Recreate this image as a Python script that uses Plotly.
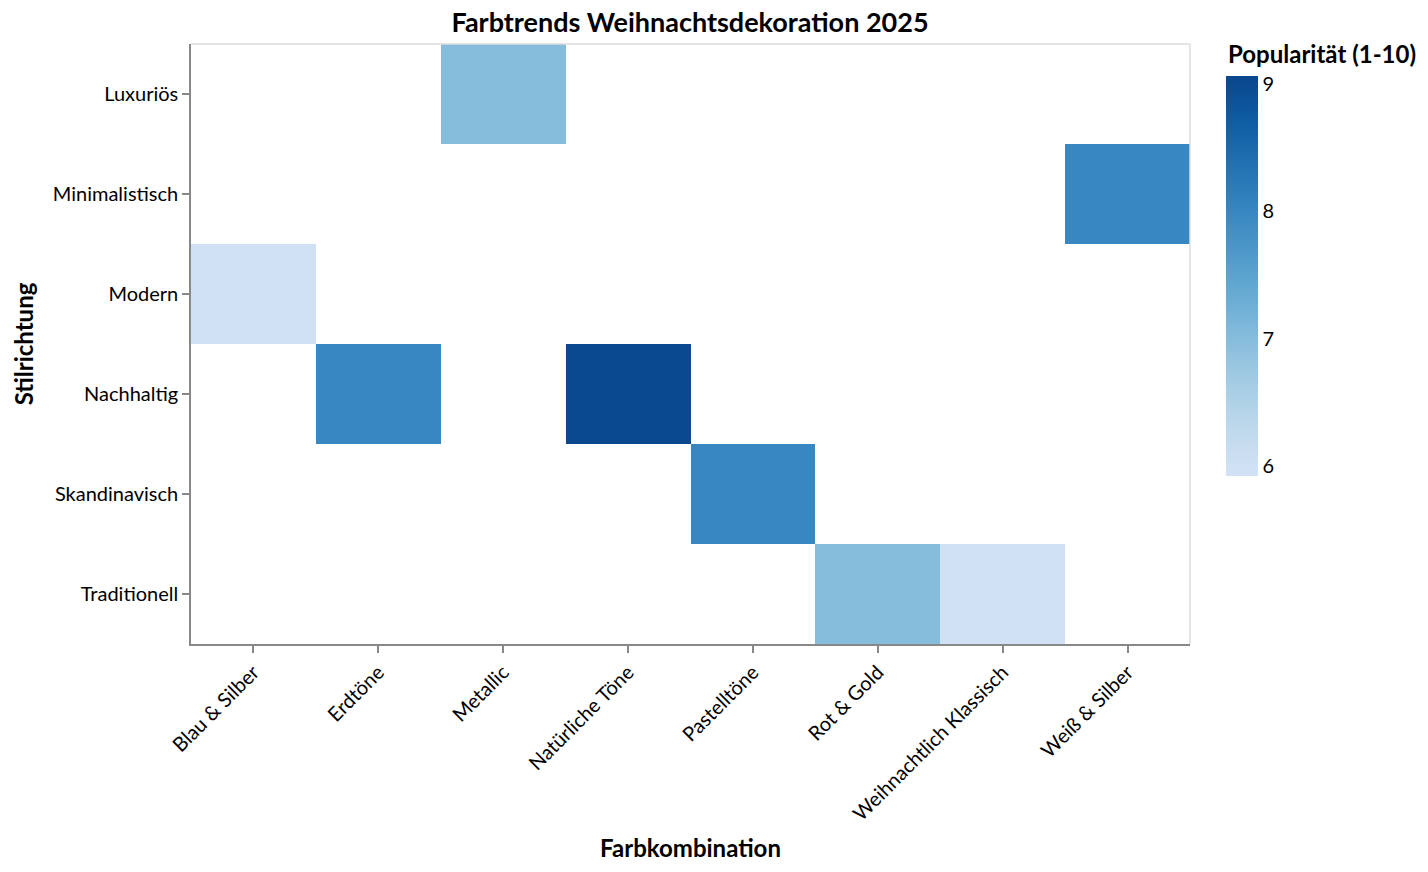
import plotly.graph_objects as go

farben = ["Blau & Silber", "Erdtöne", "Metallic", "Natürliche Töne", "Pastelltöne",
          "Rot & Gold", "Weihnachtlich Klassisch", "Weiß & Silber"]
stile = ["Luxuriös", "Minimalistisch", "Modern", "Nachhaltig", "Skandinavisch", "Traditionell"]

rec_farbe = ["Metallic", "Weiß & Silber", "Blau & Silber", "Erdtöne", "Natürliche Töne",
             "Pastelltöne", "Rot & Gold", "Weihnachtlich Klassisch"]
rec_stil = ["Luxuriös", "Minimalistisch", "Modern", "Nachhaltig", "Nachhaltig",
            "Skandinavisch", "Traditionell", "Traditionell"]
rec_wert = [7, 8, 6, 8, 9, 8, 7, 6]

z = [[None for _ in farben] for _ in stile]
for f, s, v in zip(rec_farbe, rec_stil, rec_wert):
    z[stile.index(s)][farben.index(f)] = v

blues_hex = ["#cfe1f2", "#bed8ec", "#a8cee5", "#8fc1de", "#74b2d7", "#5ba3cf", "#4592c6",
             "#3181bd", "#206fb0", "#0f5ea3", "#0a4990"]

# data domain and a slightly padded bar range (labels sit inside the bar ends)
dmin, dmax = 6, 9
bmin, bmax = 5.921, 9.063


def norm(v):
    return (v - bmin) / (bmax - bmin)


colorscale = [[0.0, blues_hex[0]]]
for i, c in enumerate(blues_hex):
    colorscale.append([norm(dmin + (dmax - dmin) * i / (len(blues_hex) - 1)), c])
colorscale.append([1.0, blues_hex[-1]])

FONT = "Lato"
OFF = 8  # body margin of the page
W, H = 1428 - OFF, 872 - OFF
L, R, T, B = 191 - OFF, 238, 44 - OFF, 228
pw, ph = W - L - R, H - T - B


def px_x(x):
    return (x - OFF - L) / pw


def px_y(y):
    return (H - B - (y - OFF)) / ph


fig = go.Figure(go.Heatmap(
    x=farben, y=stile, z=z, zmin=bmin, zmax=bmax, colorscale=colorscale,
    xgap=0, ygap=0, hoverongaps=False,
    colorbar=dict(
        thickness=32, thicknessmode="pixels", len=400, lenmode="pixels",
        x=px_x(1226), xanchor="left", xpad=0, y=px_y(76), yanchor="top", ypad=0,
        outlinewidth=0, tickvals=[6, 7, 8, 9], ticks="",
        tickfont=dict(family=FONT, size=20, color="#000"),
    ),
))

fig.update_layout(
    width=W, height=H,
    margin=dict(l=L, r=R, t=T, b=B),
    paper_bgcolor="white", plot_bgcolor="white",
    font=dict(family=FONT, size=20, color="#000"),
    title=dict(text="<b>Farbtrends Weihnachtsdekoration 2025</b>", x=px_x(690) * pw / W + L / W,
               xanchor="center", y=1 - (23 - OFF) / H, yanchor="middle",
               font=dict(family=FONT, size=27, color="#000")),
    xaxis=dict(categoryorder="array", categoryarray=farben, tickangle=-45,
               showgrid=False, zeroline=False, showline=True, linecolor="#888", linewidth=1.5,
               ticks="outside", ticklen=7, tickcolor="#888", tickwidth=1.5,
               tickfont=dict(family=FONT, size=20, color="#000"),
               title=dict(text="<b>Farbkombination</b>", standoff=16,
                          font=dict(family=FONT, size=24, color="#000"))),
    yaxis=dict(categoryorder="array", categoryarray=stile, autorange="reversed",
               showgrid=False, zeroline=False, showline=True, linecolor="#888", linewidth=1.5,
               ticks="outside", ticklen=7, tickcolor="#888", tickwidth=1.5,
               tickfont=dict(family=FONT, size=20, color="#000"),
               title=dict(text="<b>Stilrichtung</b>", standoff=12,
                          font=dict(family=FONT, size=24, color="#000"))),
    shapes=[
        dict(type="line", xref="paper", yref="paper", x0=0, x1=1, y0=1, y1=1,
             line=dict(color="#ddd", width=1.5)),
        dict(type="line", xref="paper", yref="paper", x0=1, x1=1, y0=0, y1=1,
             line=dict(color="#ddd", width=1.5)),
    ],
    annotations=[
        dict(text="<b>Popularität (1-10)</b>", xref="paper", yref="paper",
             x=px_x(1226), y=px_y(53), xanchor="left", yanchor="middle", showarrow=False,
             font=dict(family=FONT, size=24, color="#000")),
    ],
)

fig.write_html("out.html")
